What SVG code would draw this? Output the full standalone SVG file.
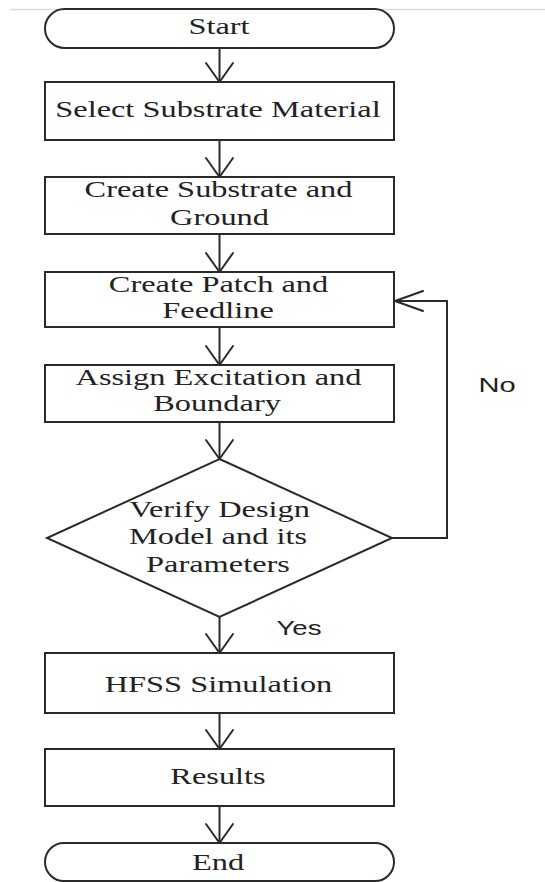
<svg xmlns="http://www.w3.org/2000/svg" width="545" height="882" viewBox="0 0 545 882">
<style>
.shape{fill:#fff;stroke:#2a2a2a;stroke-width:2}
.lbl{font-family:"Liberation Serif","Times New Roman",serif;font-size:22.5px;fill:#222;text-anchor:middle}
.side{font-family:"Liberation Sans",Arial,sans-serif;font-size:20.5px;fill:#222;text-anchor:middle}
.conn{fill:none;stroke:#2a2a2a;stroke-width:2}
</style>
<defs>
<marker id="arrDown" markerUnits="userSpaceOnUse" orient="auto" refX="0" refY="0" markerWidth="30" markerHeight="30" overflow="visible">
<path d="M-19,-13.5 L0,0 L-19,13.5" fill="none" stroke="#2a2a2a" stroke-width="2" stroke-linecap="round" stroke-linejoin="round"/>
</marker>
<marker id="arrLeft" markerUnits="userSpaceOnUse" orient="auto" refX="0" refY="0" markerWidth="30" markerHeight="30" overflow="visible">
<path d="M-28,-10 L0,0 L-28,10" fill="none" stroke="#2a2a2a" stroke-width="2" stroke-linecap="round" stroke-linejoin="round"/>
</marker>
</defs>
<rect width="545" height="882" fill="#fff"/>
<line x1="10" y1="9.5" x2="545" y2="9.5" stroke="#dcdcdc" stroke-width="1.5"/>
<g id="connectors">
<path class="conn" d="M219.5,48 V82" marker-end="url(#arrDown)"/>
<path class="conn" d="M219.5,140 V177" marker-end="url(#arrDown)"/>
<path class="conn" d="M219.5,234 V272" marker-end="url(#arrDown)"/>
<path class="conn" d="M219.5,327 V365" marker-end="url(#arrDown)"/>
<path class="conn" d="M219.5,422 V459" marker-end="url(#arrDown)"/>
<path class="conn" d="M219.5,617 V653" marker-end="url(#arrDown)"/>
<path class="conn" d="M219.5,713 V749" marker-end="url(#arrDown)"/>
<path class="conn" d="M219.5,806 V843" marker-end="url(#arrDown)"/>
<path class="conn" d="M392,538 H447 V301 H395" marker-end="url(#arrLeft)"/>
<text class="side" transform="translate(497,392) scale(1.42,1)">No</text>
<text class="side" transform="translate(299,635) scale(1.35,1)">Yes</text>
</g>
<g id="start">
<rect class="shape" x="45" y="9" width="349" height="39" rx="19.5"/>
<text class="lbl" transform="translate(219,34) scale(1.44,1)">Start</text>
</g>
<g id="select">
<rect class="shape" x="45" y="82" width="349" height="58"/>
<text class="lbl" transform="translate(218,117) scale(1.44,1)">Select Substrate Material</text>
</g>
<g id="substrate">
<rect class="shape" x="45" y="177" width="349" height="57"/>
<text class="lbl" transform="translate(218.5,197) scale(1.44,1)">Create Substrate and</text>
<text class="lbl" transform="translate(219.5,225) scale(1.44,1)">Ground</text>
</g>
<g id="patch">
<rect class="shape" x="45" y="272" width="349" height="55"/>
<text class="lbl" transform="translate(218.5,292) scale(1.44,1)">Create Patch and</text>
<text class="lbl" transform="translate(218,318) scale(1.44,1)">Feedline</text>
</g>
<g id="excitation">
<rect class="shape" x="45" y="365" width="349" height="57"/>
<text class="lbl" transform="translate(218.5,385) scale(1.44,1)">Assign Excitation and</text>
<text class="lbl" transform="translate(217,411) scale(1.44,1)">Boundary</text>
</g>
<g id="verify">
<polygon class="shape" points="219.5,459 392,538 219.5,617 47,538"/>
<text class="lbl" transform="translate(219.5,517) scale(1.44,1)">Verify Design</text>
<text class="lbl" transform="translate(218,544) scale(1.44,1)">Model and its</text>
<text class="lbl" transform="translate(218,572) scale(1.44,1)">Parameters</text>
</g>
<g id="hfss">
<rect class="shape" x="45" y="653" width="349" height="60"/>
<text class="lbl" transform="translate(218.5,692) scale(1.44,1)">HFSS Simulation</text>
</g>
<g id="results">
<rect class="shape" x="45" y="749" width="349" height="57"/>
<text class="lbl" transform="translate(218,784) scale(1.44,1)">Results</text>
</g>
<g id="end">
<rect class="shape" x="45" y="843" width="349" height="38" rx="19"/>
<text class="lbl" transform="translate(218,870) scale(1.44,1)">End</text>
</g>
</svg>
